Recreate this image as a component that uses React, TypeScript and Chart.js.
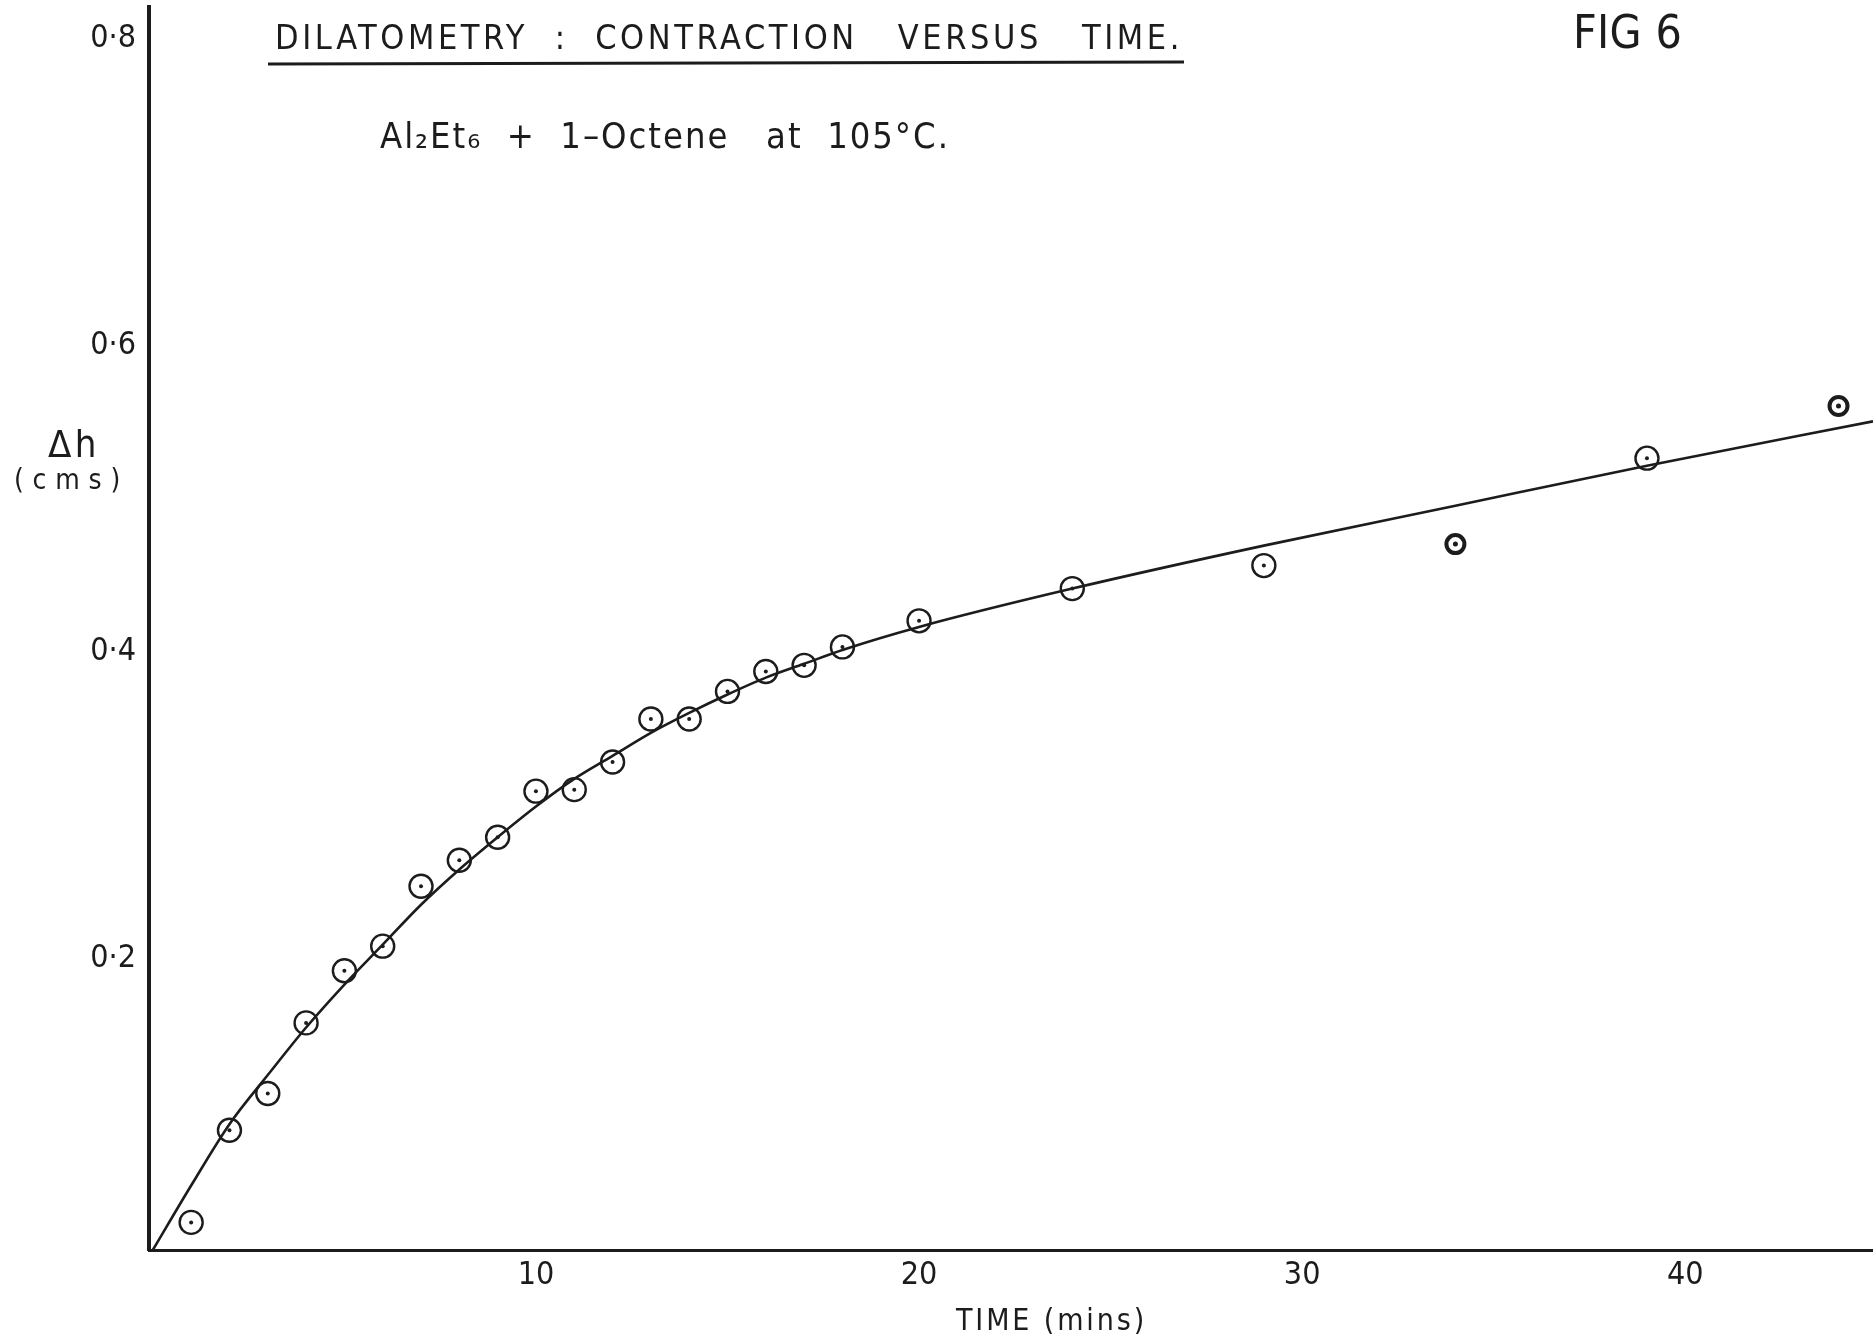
import React, { useEffect, useRef } from 'react';
import { Chart, registerables } from 'chart.js';

Chart.register(...registerables);

// ---- data ----
const timeMins = [1, 2, 3, 4, 5, 6, 7, 8, 9, 10, 11, 12, 13, 14, 15, 16, 17, 18, 20, 24, 29, 39];
const contraction = [0.018, 0.078, 0.102, 0.148, 0.182, 0.198, 0.237, 0.254, 0.269, 0.299, 0.300, 0.318, 0.346, 0.346, 0.364, 0.377, 0.381, 0.393, 0.410, 0.431, 0.446, 0.516];
const laterTimeMins = [34, 44];
const laterContraction = [0.460, 0.550];
const curveTime = [0, 1, 2, 3, 4, 5, 6, 7, 8, 9, 10, 11, 12, 13, 14, 15, 16, 17, 18, 20, 24, 29, 34, 39, 44.9];
const curveValue = [0, 0.042, 0.082, 0.114, 0.145, 0.173, 0.199, 0.225, 0.248, 0.269, 0.289, 0.307, 0.322, 0.337, 0.350, 0.362, 0.373, 0.382, 0.391, 0.406, 0.431, 0.459, 0.485, 0.511, 0.540];
const xTicks = [10, 20, 30, 40];
const xTickLabels = ['10', '20', '30', '40'];
const yTicks = [0.2, 0.4, 0.6, 0.8];
const yTickLabels = ['0·2', '0·4', '0·6', '0·8'];

const titleText = 'DILATOMETRY  :  CONTRACTION   VERSUS   TIME.';
const subtitleText = 'Al₂Et₆  +  1–Octene   at  105°C.';
const figText = 'FIG 6';
const yTitleTop = 'Δh';
const yTitleBottom = '(cms)';
const xTitleText = 'TIME (mins)';

const INK = '#1c1c1c';
const FONT = '"DejaVu Sans Condensed", "Liberation Sans Narrow", "DejaVu Sans", sans-serif';

function drawFitted(ctx: CanvasRenderingContext2D, text: string, x: number, y: number, width: number, size: number) {
  ctx.font = `${size}px ${FONT}`;
  (ctx as any).letterSpacing = '0px';
  const w = ctx.measureText(text).width;
  const sp = (width - w) / text.length;
  (ctx as any).letterSpacing = `${sp.toFixed(2)}px`;
  ctx.textAlign = 'left';
  ctx.textBaseline = 'middle';
  ctx.fillText(text, x, y);
  (ctx as any).letterSpacing = '0px';
}

const annotationPlugin = {
  id: 'figureAnnotations',
  afterDraw(chart: any) {
    const ctx: CanvasRenderingContext2D = chart.ctx;
    ctx.save();
    ctx.fillStyle = INK;
    ctx.strokeStyle = INK;
    // title + underline
    drawFitted(ctx, titleText, 275, 40, 908, 34);
    ctx.lineWidth = 3;
    ctx.beginPath();
    ctx.moveTo(268, 64);
    ctx.lineTo(1184, 62);
    ctx.stroke();
    // subtitle
    drawFitted(ctx, subtitleText, 380, 139, 570, 36);
    // figure number
    drawFitted(ctx, figText, 1573, 36, 109, 46);
    // y-axis title (horizontal)
    drawFitted(ctx, yTitleTop, 48, 447, 52, 38);
    drawFitted(ctx, yTitleBottom, 14, 482, 115, 28);
    // x-axis title
    drawFitted(ctx, xTitleText, 956, 1322, 191, 30);
    ctx.restore();
  },
};

export default function App() {
  const ref = useRef<HTMLCanvasElement | null>(null);

  useEffect(() => {
    document.body.style.margin = '0';
    document.body.style.overflow = 'hidden';
    const canvas = ref.current;
    if (!canvas) return;
    const pts = timeMins.map((x, i) => ({ x, y: contraction[i] }));
    const later = laterTimeMins.map((x, i) => ({ x, y: laterContraction[i] }));
    const curve = curveTime.map((x, i) => ({ x, y: curveValue[i] }));

    const chart = new Chart(canvas, {
      type: 'scatter',
      data: {
        datasets: [
          {
            type: 'line',
            label: 'fit',
            data: curve,
            borderColor: INK,
            borderWidth: 2.6,
            pointRadius: 0,
            tension: 0.4,
            cubicInterpolationMode: 'monotone',
            fill: false,
          } as any,
          {
            label: 'points',
            data: pts,
            pointRadius: 11.5,
            pointBorderWidth: 2.4,
            pointBorderColor: INK,
            pointBackgroundColor: 'rgba(0,0,0,0)',
          },
          {
            label: 'points-dot',
            data: pts,
            pointRadius: 2,
            pointBorderWidth: 0,
            pointBackgroundColor: INK,
          },
          {
            label: 'later',
            data: later,
            pointRadius: 9,
            pointBorderWidth: 4,
            pointBorderColor: INK,
            pointBackgroundColor: 'rgba(0,0,0,0)',
          },
          {
            label: 'later-dot',
            data: later,
            pointRadius: 2.5,
            pointBorderWidth: 0,
            pointBackgroundColor: INK,
          },
        ],
      },
      options: {
        animation: false,
        responsive: false,
        devicePixelRatio: 1,
        layout: { autoPadding: false, padding: { top: 7, left: 0, right: 0, bottom: 0 } },
        plugins: {
          legend: { display: false },
          tooltip: { enabled: false },
          title: { display: false },
        },
        scales: {
          x: {
            type: 'linear',
            position: 'bottom',
            min: -0.1,
            max: 44.9,
            afterBuildTicks: (scale: any) => {
              scale.ticks = xTicks.map((v) => ({ value: v }));
            },
            afterFit: (scale: any) => {
              scale.height = 92;
              scale.paddingLeft = 0;
              scale.paddingRight = 0;
            },
            grid: { display: false, drawTicks: false },
            border: { display: true, color: INK, width: 3 },
            ticks: {
              padding: 6,
              color: INK,
              font: { family: FONT, size: 32 },
              maxRotation: 0,
              autoSkip: false,
              callback: (_v: any, i: number) => xTickLabels[i],
            },
          },
          y: {
            type: 'linear',
            min: 0,
            max: 0.81,
            afterBuildTicks: (scale: any) => {
              scale.ticks = yTicks.map((v) => ({ value: v }));
            },
            afterFit: (scale: any) => {
              scale.width = 149;
              scale.paddingTop = 0;
              scale.paddingBottom = 0;
            },
            grid: { display: false, drawTicks: false },
            border: { display: true, color: INK, width: 4 },
            ticks: {
              padding: 13,
              labelOffset: 16,
              color: INK,
              font: { family: FONT, size: 32 },
              autoSkip: false,
              callback: (_v: any, i: number) => yTickLabels[i],
            },
          },
        },
      },
      plugins: [annotationPlugin],
    });
    return () => chart.destroy();
  }, []);

  return (
    <div style={{ width: 1873, height: 1342, background: '#ffffff' }}>
      <canvas ref={ref} width={1873} height={1342} style={{ display: 'block' }} />
    </div>
  );
}
